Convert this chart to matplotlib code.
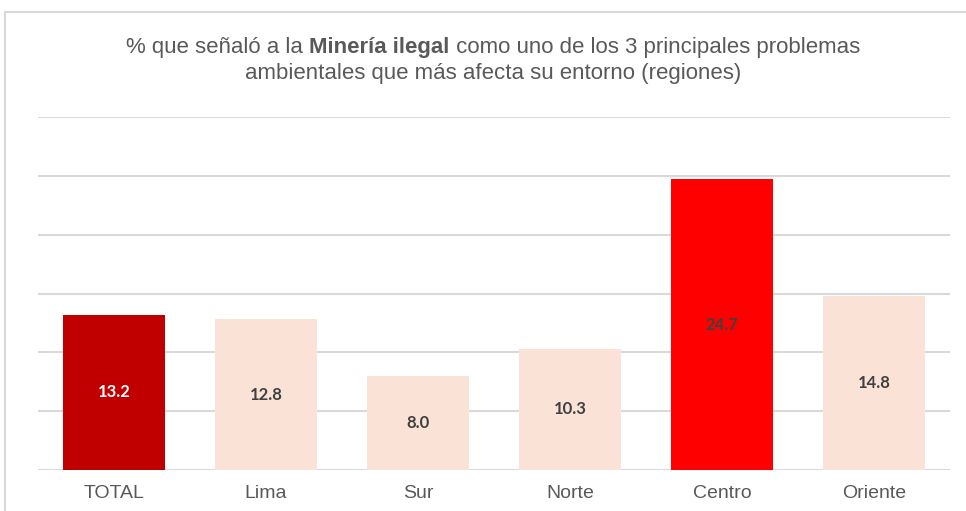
import matplotlib.pyplot as plt
from matplotlib.patches import Rectangle

regiones = ["TOTAL", "Lima", "Sur", "Norte", "Centro", "Oriente"]
valores = [13.2, 12.8, 8.0, 10.3, 24.7, 14.8]
colores = ["#C00000", "#FAE3D6", "#FAE3D6", "#FAE3D6", "#FF0000", "#FAE3D6"]
color_texto = ["white", "#404040", "#404040", "#404040", "#404040", "#404040"]

titulo1 = ["% que señaló a la ", "Minería ilegal", " como uno de los 3 principales problemas"]
titulo2 = "ambientales que más afecta su entorno (regiones)"

plt.rcParams['font.family'] = ['Liberation Sans', 'DejaVu Sans']

fig = plt.figure(figsize=(9.66, 5.11), dpi=100)
ax = fig.add_axes([38 / 966, 41 / 511, 912 / 966, 353 / 511])

# marco gris del grafico
fig.patches.append(Rectangle((5 / 966, -0.1), 1.1, (511 - 12) / 511 + 0.1,
                             transform=fig.transFigure, fill=False,
                             edgecolor="#D9D9D9", linewidth=1.5))

x = range(len(regiones))
barras = ax.bar(x, valores, width=0.665, color=colores, zorder=2)

for i, b in enumerate(barras):
    ax.text(b.get_x() + b.get_width() / 2, valores[i] / 2, f"{valores[i]:.1f}",
            ha="center", va="center", fontsize=12, fontweight="bold",
            color=color_texto[i], family=["Lato", "DejaVu Sans"], zorder=3)

ax.set_xlim(-0.5, len(regiones) - 0.5)
ax.set_ylim(0, 30)
ax.set_yticks(range(0, 31, 5))
ax.yaxis.grid(True, color="#D9D9D9", linewidth=1.5, zorder=0)
ax.set_axisbelow(True)
ax.tick_params(axis="y", left=False, labelleft=False)
ax.tick_params(axis="x", bottom=False, labelsize=14, labelcolor="#595959", pad=7)
ax.set_xticks(list(x))
ax.set_xticklabels(regiones)
for s in ax.spines.values():
    s.set_visible(False)

# primera linea del titulo con parte en negrita
centro_titulo = 493
piezas = []
for j, t in enumerate(titulo1):
    piezas.append(fig.text(0, 1 - 48 / 511, t, ha="left", va="center", fontsize=16,
                           color="#595959", fontweight="bold" if j == 1 else "normal"))
r = fig.canvas.get_renderer()
anchos = [p.get_window_extent(r).width for p in piezas]
x0 = centro_titulo - sum(anchos) / 2
for p, w in zip(piezas, anchos):
    p.set_x(x0 / 966)
    x0 += w
fig.text(centro_titulo / 966, 1 - 74 / 511, titulo2, ha="center", va="center",
         fontsize=16, color="#595959")

fig.savefig("out.png", dpi=100)
